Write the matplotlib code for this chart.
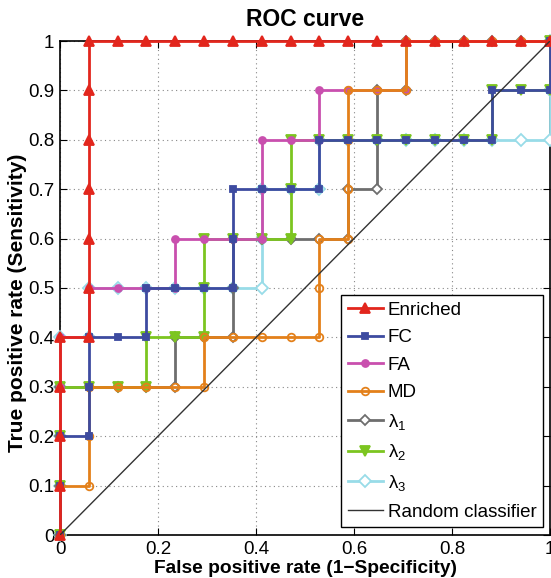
import matplotlib
matplotlib.use("Agg")
import numpy as np
import matplotlib.pyplot as plt

plt.rcParams['font.family'] = ['Liberation Sans', 'DejaVu Sans']
plt.rcParams['mathtext.fontset'] = 'custom'
plt.rcParams['mathtext.rm'] = 'Liberation Sans'

# counts: 17 negatives, 10 positives
N_NEG = 17
N_POS = 10

enriched_fp = [0, 0, 0, 0, 0, 1, 1, 1, 1, 1, 1, 1, 2, 3, 4, 5, 6, 7, 8, 9, 10, 11, 12, 13, 14, 15, 16, 17]
enriched_tp = [0, 1, 2, 3, 4, 4, 5, 6, 7, 8, 9, 10, 10, 10, 10, 10, 10, 10, 10, 10, 10, 10, 10, 10, 10, 10, 10, 10]

fc_fp = [0, 0, 0, 1, 1, 1, 2, 3, 3, 4, 5, 6, 6, 6, 7, 8, 9, 9, 10, 11, 12, 13, 14, 15, 15, 16, 17, 17]
fc_tp = [0, 1, 2, 2, 3, 4, 4, 4, 5, 5, 5, 5, 6, 7, 7, 7, 7, 8, 8, 8, 8, 8, 8, 8, 9, 9, 9, 10]

fa_fp = [0, 0, 0, 0, 0, 1, 1, 2, 3, 4, 4, 5, 6, 7, 7, 7, 8, 9, 9, 10, 11, 12, 12, 13, 14, 15, 16, 17]
fa_tp = [0, 1, 2, 3, 4, 4, 5, 5, 5, 5, 6, 6, 6, 6, 7, 8, 8, 8, 9, 9, 9, 9, 10, 10, 10, 10, 10, 10]

md_fp = [0, 0, 1, 1, 1, 2, 3, 4, 5, 5, 6, 7, 8, 9, 9, 9, 10, 10, 10, 10, 11, 12, 12, 13, 14, 15, 16, 17]
md_tp = [0, 1, 1, 2, 3, 3, 3, 3, 3, 4, 4, 4, 4, 4, 5, 6, 6, 7, 8, 9, 9, 9, 10, 10, 10, 10, 10, 10]

l1_fp = [0, 0, 0, 0, 1, 2, 3, 4, 4, 5, 6, 6, 6, 7, 8, 9, 10, 10, 11, 11, 11, 12, 12, 13, 14, 15, 16, 17]
l1_tp = [0, 1, 2, 3, 3, 3, 3, 3, 4, 4, 4, 5, 6, 6, 6, 6, 6, 7, 7, 8, 9, 9, 10, 10, 10, 10, 10, 10]

l2_fp = [0, 0, 0, 0, 1, 2, 3, 3, 4, 5, 5, 5, 6, 7, 8, 8, 8, 9, 10, 11, 12, 13, 14, 15, 15, 16, 17, 17]
l2_tp = [0, 1, 2, 3, 3, 3, 3, 4, 4, 4, 5, 6, 6, 6, 6, 7, 8, 8, 8, 8, 8, 8, 8, 8, 9, 9, 9, 10]

l3_fp = [0, 0, 0, 0, 0, 1, 1, 2, 3, 4, 5, 6, 7, 7, 7, 8, 9, 9, 10, 11, 12, 13, 14, 15, 16, 17, 17, 17]
l3_tp = [0, 1, 2, 3, 4, 4, 5, 5, 5, 5, 5, 5, 5, 6, 7, 7, 7, 8, 8, 8, 8, 8, 8, 8, 8, 8, 9, 10]

labels = ['Enriched', 'FC', 'FA', 'MD',
          r'$\mathregular{\lambda_1}$', r'$\mathregular{\lambda_2}$', r'$\mathregular{\lambda_3}$']
colors = ['#E2261D', '#3D4BA0', '#C94FAE', '#E3801A', '#6E6E6E', '#7CC520', '#98DCE8']

series = [(enriched_fp, enriched_tp), (fc_fp, fc_tp), (fa_fp, fa_tp), (md_fp, md_tp),
          (l1_fp, l1_tp), (l2_fp, l2_tp), (l3_fp, l3_tp)]
markers = ['^', 's', 'o', 'o', 'D', 'v', 'D']
msizes = [7, 5, 5, 5.5, 5, 7, 6]
faces = ['fill', 'fill', 'fill', 'none', 'white', 'fill', 'white']
zorders = [10, 9, 7, 8, 5, 6, 4]

fig = plt.figure(figsize=(5.51, 5.78), dpi=100)
ax = fig.add_axes([60/551, 1 - 535/578, 490/551, 494/578])

handles = []
for (fp, tp), lab, c, m, ms, fc, z in zip(series, labels, colors, markers, msizes, faces, zorders):
    x = np.array(fp) / N_NEG
    y = np.array(tp) / N_POS
    mfc = c if fc == 'fill' else fc
    h, = ax.plot(x, y, color=c, lw=2, marker=m, markersize=ms, mfc=mfc,
                 mec=c, mew=1.3, label=lab, zorder=z, clip_on=False)
    handles.append(h)

hr, = ax.plot([0, 1], [0, 1], color='#333333', lw=1, label='Random classifier', zorder=11)
handles.append(hr)

ax.set_xlim(0, 1)
ax.set_ylim(0, 1)
ax.set_xticks(np.arange(0, 1.01, 0.2))
ax.set_xticklabels(['0', '0.2', '0.4', '0.6', '0.8', '1'])
ax.set_yticks(np.arange(0, 1.01, 0.1))
ax.set_yticklabels(['0', '0.1', '0.2', '0.3', '0.4', '0.5', '0.6', '0.7', '0.8', '0.9', '1'])
ax.tick_params(direction='in', top=True, right=True, length=5, labelsize=13.5, pad=4)
ax.grid(True, linestyle=(0, (1, 3)), color='#888888', lw=0.8)
for s in ax.spines.values():
    s.set_linewidth(1.2)

ax.set_title('ROC curve', fontsize=16.5, fontweight='bold', pad=11)
ax.set_xlabel('False positive rate (1\u2212Specificity)', fontsize=13.8, fontweight='bold', labelpad=2)
ax.set_ylabel('True positive rate (Sensitivity)', fontsize=15, fontweight='bold')
ax.yaxis.set_label_coords(-0.068, 0.47)

leg = ax.legend(handles=handles, loc='lower right', bbox_to_anchor=(0.986, 0.016),
                borderaxespad=0, fontsize=13.5, fancybox=False, framealpha=1,
                edgecolor='black', handlelength=1.9, handletextpad=0.25,
                labelspacing=0.56, borderpad=0.35)
leg.get_frame().set_linewidth(1.0)
leg.set_zorder(20)

fig.savefig('out.png', dpi=100)
